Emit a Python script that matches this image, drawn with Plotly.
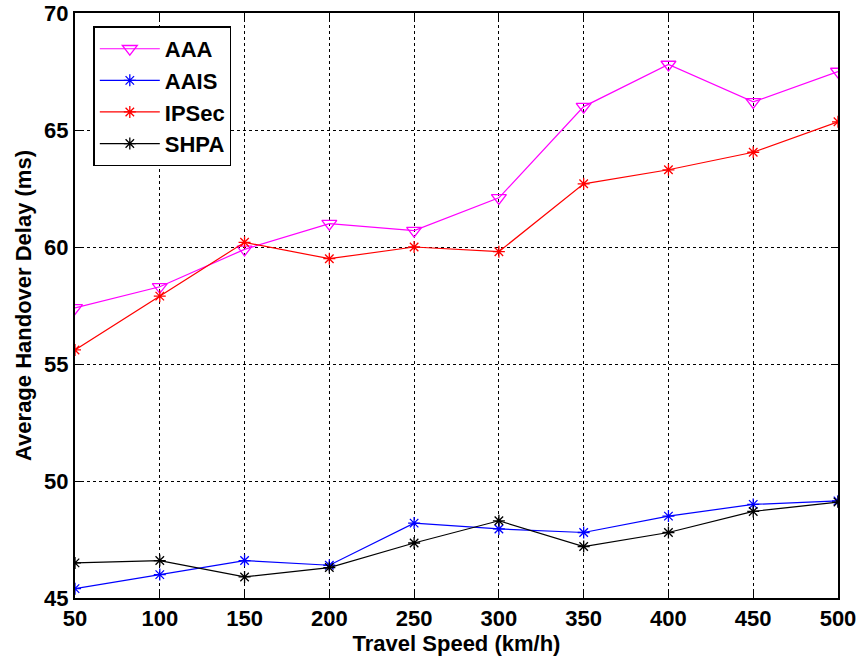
import plotly.graph_objects as go

speeds = [50, 100, 150, 200, 250, 300, 350, 400, 450, 500]
aaa = [57.4, 58.3, 59.9, 61.0, 60.7, 62.1, 66.0, 67.8, 66.2, 67.5]
aais = [45.4, 46.0, 46.6, 46.4, 48.2, 47.95, 47.8, 48.5, 49.0, 49.15]
ipsec = [55.6, 57.9, 60.2, 59.5, 60.0, 59.8, 62.7, 63.3, 64.05, 65.35]
shpa = [46.5, 46.6, 45.9, 46.3, 47.35, 48.3, 47.2, 47.8, 48.7, 49.1]

FONT = "Liberation Sans, Arial, sans-serif"

fig = go.Figure()
series = [
    ("AAA", aaa, "#ff00ff", "triangle-down-open", 13),
    ("AAIS", aais, "#0000ff", "asterisk-open", 10),
    ("IPSec", ipsec, "#ff0000", "asterisk-open", 10),
    ("SHPA", shpa, "#000000", "asterisk-open", 10),
]
for name, ys, color, sym, size in series:
    fig.add_trace(go.Scatter(
        x=speeds, y=ys, name=name, mode="lines+markers",
        line=dict(color=color, width=1.2),
        marker=dict(symbol=sym, size=size, color=color, line=dict(color=color, width=1.3)),
        legendgroup=name,
    ))

axis_common = dict(
    showline=True, linecolor="black", linewidth=2, mirror="ticks",
    ticks="inside", ticklen=6, tickcolor="black", tickwidth=1,
    showgrid=True, gridcolor="black", gridwidth=1, griddash="dot",
    zeroline=False, automargin=False, ticklabeloverflow="allow",
    tickfont=dict(family=FONT, size=22, color="black", weight="bold"),
)

fig.update_xaxes(range=[50, 500], tick0=50, dtick=50,
                 title=dict(text="Travel Speed (km/h)", standoff=2,
                            font=dict(family=FONT, size=22, color="black", weight="bold")),
                 **axis_common)
fig.update_yaxes(range=[45, 70], tick0=45, dtick=5,
                 title=dict(text="Average Handover Delay (ms)", standoff=6,
                            font=dict(family=FONT, size=22, color="black", weight="bold")),
                 **axis_common)

fig.update_layout(
    width=859, height=659,
    margin=dict(l=75, r=21, t=13, b=61),
    paper_bgcolor="white", plot_bgcolor="white",
    showlegend=True,
    legend=dict(
        x=0.024, y=0.977, xanchor="left", yanchor="top",
        bgcolor="white", bordercolor="black", borderwidth=1.5,
        font=dict(family=FONT, size=22, color="black", weight="bold"),
        tracegroupgap=0, itemwidth=60,
    ),
)

fig.write_html("out.html", config={"displayModeBar": False},
               post_script="document.body.style.margin='0';")
